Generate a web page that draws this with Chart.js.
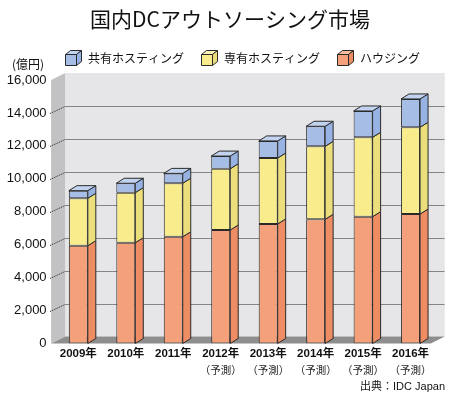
<!DOCTYPE html>
<html><head><meta charset="utf-8">
<script src="https://cdn.jsdelivr.net/npm/chart.js@4.4.1/dist/chart.umd.min.js"></script>
<style>html,body{margin:0;padding:0;background:#fff;}#wrap{width:450px;height:398px;}</style>
</head><body><div id="wrap"><canvas id="c" width="450" height="398"></canvas></div>
<script>
// ---- data ----
const titleText = '国内DCアウトソーシング市場';
const unitText = '(億円)';
const sourceText = '出典：IDC Japan';
const years = ['2009年','2010年','2011年','2012年','2013年','2014年','2015年','2016年'];
const forecastMarks = ['','','','（予測）','（予測）','（予測）','（予測）','（予測）'];
const seriesNames = ['ハウジング','専有ホスティング','共有ホスティング'];
const housing   = [5940, 6120, 6480, 6890, 7260, 7540, 7700, 7860];
const dedicated = [2880, 3040, 3250, 3720, 4000, 4430, 4820, 5270];
const shared    = [460, 570, 600, 770, 1040, 1220, 1600, 1720];
const yTickValues = [0, 2000, 4000, 6000, 8000, 10000, 12000, 14000, 16000];

// ---- styles ----
const CJK = '"Noto Sans CJK JP", sans-serif';
const LAT = '"Liberation Sans", "Noto Sans CJK JP", sans-serif';
const palette = [
  {front:'#F4A07A', side:'#EE8C64', top:'#F8BC9E'},
  {front:'#F8EC8C', side:'#EBDE7B', top:'#FBF3B6'},
  {front:'#A6BEE6', side:'#96B3E3', top:'#C2D3EF'}
];
const WALL_DX = 14, WALL_DY = 7, FRONT_SHIFT = 3.5, BAR_DX = 8, BAR_DY = 5;
const EDGE = '#2a2a2a';

function poly(ctx, pts, fill, stroke) {
  ctx.beginPath();
  ctx.moveTo(pts[0][0], pts[0][1]);
  for (let i = 1; i < pts.length; i++) ctx.lineTo(pts[i][0], pts[i][1]);
  ctx.closePath();
  if (fill) { ctx.fillStyle = fill; ctx.fill(); }
  if (stroke) { ctx.strokeStyle = stroke; ctx.lineWidth = 1; ctx.stroke(); }
}
function drawCube(ctx, x, y, w, h, dx, dy, col) {
  poly(ctx, [[x, y+dy],[x+dx, y],[x+w+dx, y],[x+w, y+dy]], col.top, EDGE);
  poly(ctx, [[x+w, y+dy],[x+w+dx, y],[x+w+dx, y+h],[x+w, y+dy+h]], col.side, EDGE);
  poly(ctx, [[x, y+dy],[x+w, y+dy],[x+w, y+dy+h],[x, y+dy+h]], col.front, EDGE);
}

const scene3d = {
  id: 'scene3d',
  afterLayout(chart) {
    const t = chart.titleBlock;
    if (t) { t.left = 10; t.right = 450; t.width = 440; }
  },
  beforeDatasetsDraw(chart) {
    const {ctx, chartArea: ca} = chart;
    const ys = chart.scales.y;
    const L = ca.left - FRONT_SHIFT, R = ca.right - FRONT_SHIFT;
    const T = ys.getPixelForValue(yTickValues[yTickValues.length - 1]);
    const B = ys.getPixelForValue(0);
    ctx.save();
    poly(ctx, [[L+WALL_DX, T-WALL_DY],[R+WALL_DX, T-WALL_DY],[R+WALL_DX, B-WALL_DY],[L+WALL_DX, B-WALL_DY]], '#E6E6E8');
    poly(ctx, [[L, T],[L+WALL_DX, T-WALL_DY],[L+WALL_DX, B-WALL_DY],[L, B]], '#C2C2C4');
    poly(ctx, [[L, B],[L+WALL_DX, B-WALL_DY],[R+WALL_DX, B-WALL_DY],[R, B]], '#8E8E8E');
    ctx.setLineDash([1, 1]);
    ctx.strokeStyle = '#222';
    ctx.lineWidth = 1;
    yTickValues.forEach(v => {
      if (v === 0 || v === yTickValues[yTickValues.length - 1]) return;
      const yf = Math.round(ys.getPixelForValue(v));
      ctx.beginPath();
      ctx.moveTo(L - 1, yf + 0.5);
      ctx.lineTo(L + WALL_DX, yf - WALL_DY + 0.5);
      ctx.lineTo(R + WALL_DX, yf - WALL_DY + 0.5);
      ctx.stroke();
    });
    ctx.restore();
  },
  afterDatasetsDraw(chart) {
    const ctx = chart.ctx;
    const n = chart.data.datasets.length;
    ctx.save();
    for (let d = 0; d < n; d++) {
      const meta = chart.getDatasetMeta(d);
      const col = palette[d];
      meta.data.forEach(el => {
        const {x, y, base, width} = el.getProps(['x','y','base','width'], true);
        const xl = x - width/2, xr = x + width/2;
        poly(ctx, [[xr, y],[xr+BAR_DX, y-BAR_DY],[xr+BAR_DX, base-BAR_DY],[xr, base]], col.side, EDGE);
        if (d === n - 1) {
          poly(ctx, [[xl, y],[xl+BAR_DX, y-BAR_DY],[xr+BAR_DX, y-BAR_DY],[xr, y]], col.top, EDGE);
        }
      });
    }
    ctx.restore();
  },
  afterDraw(chart) {
    const ctx = chart.ctx;
    ctx.save();
    ctx.font = '12px ' + CJK;
    ctx.textBaseline = 'middle';
    ctx.textAlign = 'left';
    let x = 65;
    for (let i = chart.data.datasets.length - 1; i >= 0; i--) {
      const label = chart.data.datasets[i].label;
      drawCube(ctx, x + 0.5, 50.5, 11, 11, 5, 4, palette[i]);
      ctx.fillStyle = '#111';
      ctx.fillText(label, x + 23, 58);
      x += 23 + ctx.measureText(label).width + 17;
    }
    ctx.font = '12px ' + CJK;
    ctx.textAlign = 'center';
    ctx.fillStyle = '#111';
    ctx.fillText(unitText, 28, 64);
    ctx.font = '11px ' + LAT;
    ctx.textAlign = 'right';
    ctx.fillText(sourceText, 445, 387);
    ctx.restore();
  }
};

new Chart(document.getElementById('c'), {
  type: 'bar',
  data: {
    labels: years,
    datasets: [
      {label: seriesNames[0], data: housing,   backgroundColor: palette[0].front},
      {label: seriesNames[1], data: dedicated, backgroundColor: palette[1].front},
      {label: seriesNames[2], data: shared,    backgroundColor: palette[2].front}
    ].map(ds => Object.assign(ds, {borderColor: EDGE, borderWidth: 1, borderSkipped: false,
        barPercentage: 0.4, categoryPercentage: 1.0}))
  },
  options: {
    responsive: false,
    animation: false,
    devicePixelRatio: 1,
    layout: {padding: {left: 0, right: 15.7, top: 0, bottom: 20.5}},
    plugins: {
      legend: {display: false},
      tooltip: {enabled: false},
      title: {
        display: true, text: titleText, color: '#111',
        font: {family: CJK, size: 21, weight: 'normal', lineHeight: 1.2},
        padding: {top: 6, bottom: 48.8}
      }
    },
    scales: {
      x: {
        stacked: true,
        grid: {display: false, drawTicks: false},
        border: {display: false},
        ticks: {font: {family: LAT, size: 11.5, weight: 'bold'}, color: '#111', padding: 3, maxRotation: 0, autoSkip: false},
        afterFit: s => { s.height = 18; }
      },
      x2: {
        type: 'category',
        labels: forecastMarks,
        position: 'bottom',
        grid: {display: false, drawTicks: false},
        border: {display: false},
        ticks: {font: {family: CJK, size: 10.5}, color: '#222', padding: 2, maxRotation: 0, autoSkip: false},
        afterFit: s => { s.height = 16; }
      },
      y: {
        stacked: true,
        min: 0, max: 16000,
        grid: {display: false, drawTicks: false},
        border: {display: false},
        afterBuildTicks: s => { s.ticks = yTickValues.map(v => ({value: v})); },
        ticks: {font: {family: LAT, size: 13}, color: '#111', padding: 8,
                callback: v => Number(v).toLocaleString('en-US')},
        afterFit: s => { s.width = 54.6; }
      }
    }
  },
  plugins: [scene3d]
});
</script>
</body></html>
